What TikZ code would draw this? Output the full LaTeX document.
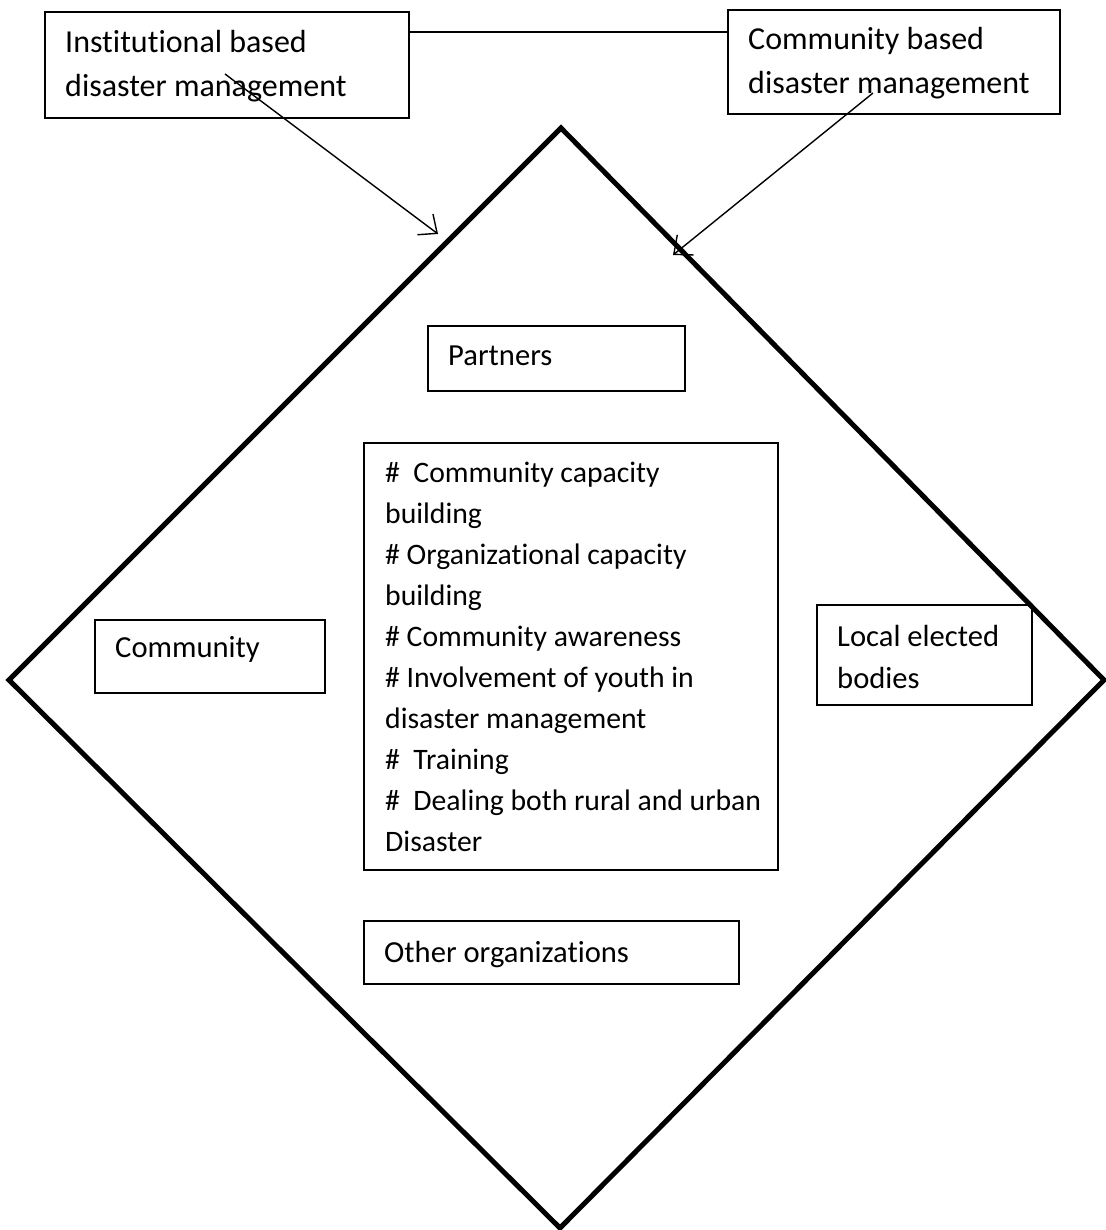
\documentclass[tikz,border=0pt]{standalone}
\usepackage{fontspec}
\setmainfont{Carlito}[Ligatures=NoCommon]
\usetikzlibrary{arrows.meta}
\tikzset{
  box/.style={draw, line width=1.8pt, rectangle, inner sep=0pt, anchor=north west},
  txt/.style={anchor=base west, inner sep=0pt, font=\fontsize{30.6}{41}\selectfont},
  bigtxt/.style={txt, font=\fontsize{32}{44}\selectfont},
  listtxt/.style={txt, font=\fontsize{29.7}{41}\selectfont},
  frame/.style={draw, line width=5pt, line join=miter},
  feed/.style={draw, line width=1.4pt, -{Straight Barb[length=15pt, width=26pt, line width=1.4pt]}},
  link/.style={draw, line width=1.4pt}
}
% stacked lines with a fixed baseline distance; baseline of the stack = first line
\newcommand{\lines}[2]{\vtop{\baselineskip=#1pt \lineskiplimit=-100pt #2}}
\begin{document}
\begin{tikzpicture}[x=1pt, y=-1pt]
\useasboundingbox (0,0) rectangle (1105,1230);

% outer diamond
\coordinate (dtop) at (561,128);
\coordinate (dright) at (1104,680);
\coordinate (dbottom) at (560,1228);
\coordinate (dleft) at (9,680);
\path[frame] (dtop) -- (dright) -- (dbottom) -- (dleft) -- cycle;

% boxes
\node[box, minimum width=364pt, minimum height=106pt] (inst) at (44,11) {};
\node[box, minimum width=332pt, minimum height=104pt] (cbdm) at (727,9) {};
\node[box, minimum width=257pt, minimum height=65pt] (partners) at (427,325) {};
\node[box, minimum width=414pt, minimum height=427pt] (acts) at (363,442) {};
\node[box, minimum width=230pt, minimum height=73pt] (community) at (94,619) {};
\node[box, minimum width=215pt, minimum height=100pt] (local) at (816,604) {};
\node[box, minimum width=375pt, minimum height=63pt] (others) at (363,920) {};

% texts
\node[bigtxt] (instT) at (65,53) {\lines{44}{\hbox{Institutional based}\hbox{disaster management}}};
\node[bigtxt] (cbdmT) at (748,50) {\lines{44}{\hbox{Community based}\hbox{disaster management}}};
\node[txt] (partnersT) at (448,365) {Partners};
\node[listtxt] (actsT) at (385,482) {\lines{41.1}{%
  \hbox{\#\ \ Community capacity}
  \hbox{building}
  \hbox{\# Organizational capacity}
  \hbox{building}
  \hbox{\# Community awareness}
  \hbox{\# Involvement of youth in}
  \hbox{disaster management}
  \hbox{\#\ \ Training}
  \hbox{\#\ \ Dealing both rural and urban}
  \hbox{Disaster}}};
\node[txt] (communityT) at (115,657) {Community};
\node[txt] (localT) at (837,646) {\lines{42}{\hbox{Local elected}\hbox{bodies}}};
\node[txt] (othersT) at (384,962) {Other organizations};

% connectors
\coordinate (linky) at (0,32);
\path[link] (inst.east |- linky) -- (cbdm.west |- linky);
\coordinate (instsrc) at (225,74);
\coordinate (insttip) at (438,234);
\coordinate (cbdmsrc) at (873,93);
\coordinate (cbdmtip) at (673,255);
\path[feed] (instsrc) -- (insttip);
\path[feed] (cbdmsrc) -- (cbdmtip);
\end{tikzpicture}
\end{document}
